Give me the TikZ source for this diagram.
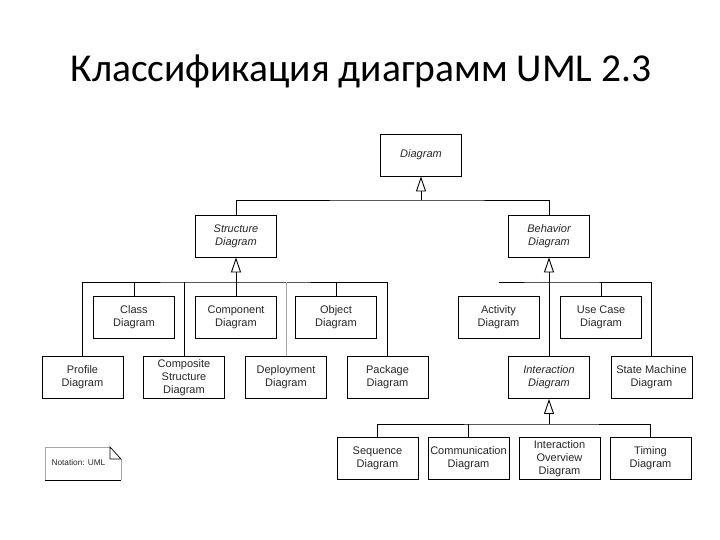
\documentclass[tikz,border=0pt]{standalone}
\usepackage{fontspec}
\setmainfont{Liberation Sans}
\newfontfamily\titlefont{Carlito}
\usetikzlibrary{arrows.meta}
\tikzset{
  box/.style={draw=black, line width=0.9pt, minimum width=81pt, minimum height=42pt,
    inner sep=1pt, align=center, font=\fontsize{11}{13}\selectfont, text=black!85},
  abox/.style={box, font=\fontsize{11}{13}\selectfont\itshape},
  conn/.style={draw=black, line width=0.9pt},
  faint/.style={draw=black!35, line width=0.9pt},
  gen/.style={conn, -{Triangle[open, width=10pt, length=15pt, line width=0.9pt]}}
}
\begin{document}
\begin{tikzpicture}[x=1pt,y=-1pt]
\useasboundingbox (0,0) rectangle (720,540);
\node[font=\titlefont\fontsize{39.5}{48}\selectfont, anchor=base] (title) at (361,82) {Классификация диаграмм UML 2.3};

% top
\node[abox] (diag) at (421,155) {Diagram};
\node[abox] (struct) at (236,236) {Structure\\Diagram};
\node[abox] (behav) at (549,236) {Behavior\\Diagram};

% structure children
\node[box] (class) at (134,317) {Class\\Diagram};
\node[box] (comp) at (236,317) {Component\\Diagram};
\node[box] (obj) at (336,317) {Object\\Diagram};
\node[box] (profile) at (82.5,377.5) {Profile\\Diagram};
\node[box] (composite) at (184,377.5) {Composite\\Structure\\Diagram};
\node[box] (deploy) at (286,377.5) {Deployment\\Diagram};
\node[box] (package) at (387.5,377.5) {Package\\Diagram};

% behavior children
\node[box] (activity) at (498.5,317.5) {Activity\\Diagram};
\node[box] (usecase) at (601,317.5) {Use Case\\Diagram};
\node[abox] (interaction) at (549,377.5) {Interaction\\Diagram};
\node[box] (statem) at (651.5,377.5) {State Machine\\Diagram};

% interaction children
\node[box] (seq) at (377.5,458.5) {Sequence\\Diagram};
\node[box] (comm) at (468.5,458.5) {Communication\\Diagram};
\node[box] (io) at (559.5,458.5) {Interaction\\Overview\\Diagram};
\node[box] (timing) at (650.5,458.5) {Timing\\Diagram};

% connectors: Diagram
\coordinate (h1) at (421,200);
\draw[conn] (struct.north) |- (h1) -| (behav.north);
\draw[gen] (h1) -- (diag.south);

% Structure bus
\coordinate (h2) at (236,282);
\draw[conn] (profile.north) |- (h2) -| (package.north);
\draw[conn] (class.north) -- (class.north |- h2);
\draw[conn] (composite.north) -- (composite.north |- h2);
\draw[conn] (obj.north) -- (obj.north |- h2);
\draw[faint] (deploy.north) -- (deploy.north |- h2);
\draw[conn] (comp.north) -- (h2);
\draw[gen] (h2) -- (struct.south);

% Behavior bus
\coordinate (h3) at (549,282);
\draw[conn] (activity.north |- h3) -- (h3) -| (statem.north);
\draw[conn] (usecase.north) -- (usecase.north |- h3);
\draw[gen] (interaction.north) -- (behav.south);

% Interaction bus
\coordinate (h4) at (549,424);
\draw[conn] (seq.north) |- (h4) -| (timing.north);
\draw[conn] (comm.north) -- (comm.north |- h4);
\draw[gen] (h4) -- (interaction.south);

% notation note
\coordinate (n1) at (45,447);
\coordinate (n2) at (110,447);
\coordinate (n3) at (121,459);
\coordinate (n4) at (121,480);
\coordinate (n5) at (45,480);
\draw[faint, line width=0.6pt] (n5) -- (n1) -- (n2);
\draw[faint, line width=0.6pt] (n3) -- (n4);
\draw[conn] (n5) -- (n4);
\draw[conn, line width=0.7pt] (n2) -- (110,459) -- (n3) -- cycle;
\node[font=\fontsize{8.3}{10}\selectfont, text=black!85, anchor=west] (note) at (48,463) {Notation: UML};
\end{tikzpicture}
\end{document}
